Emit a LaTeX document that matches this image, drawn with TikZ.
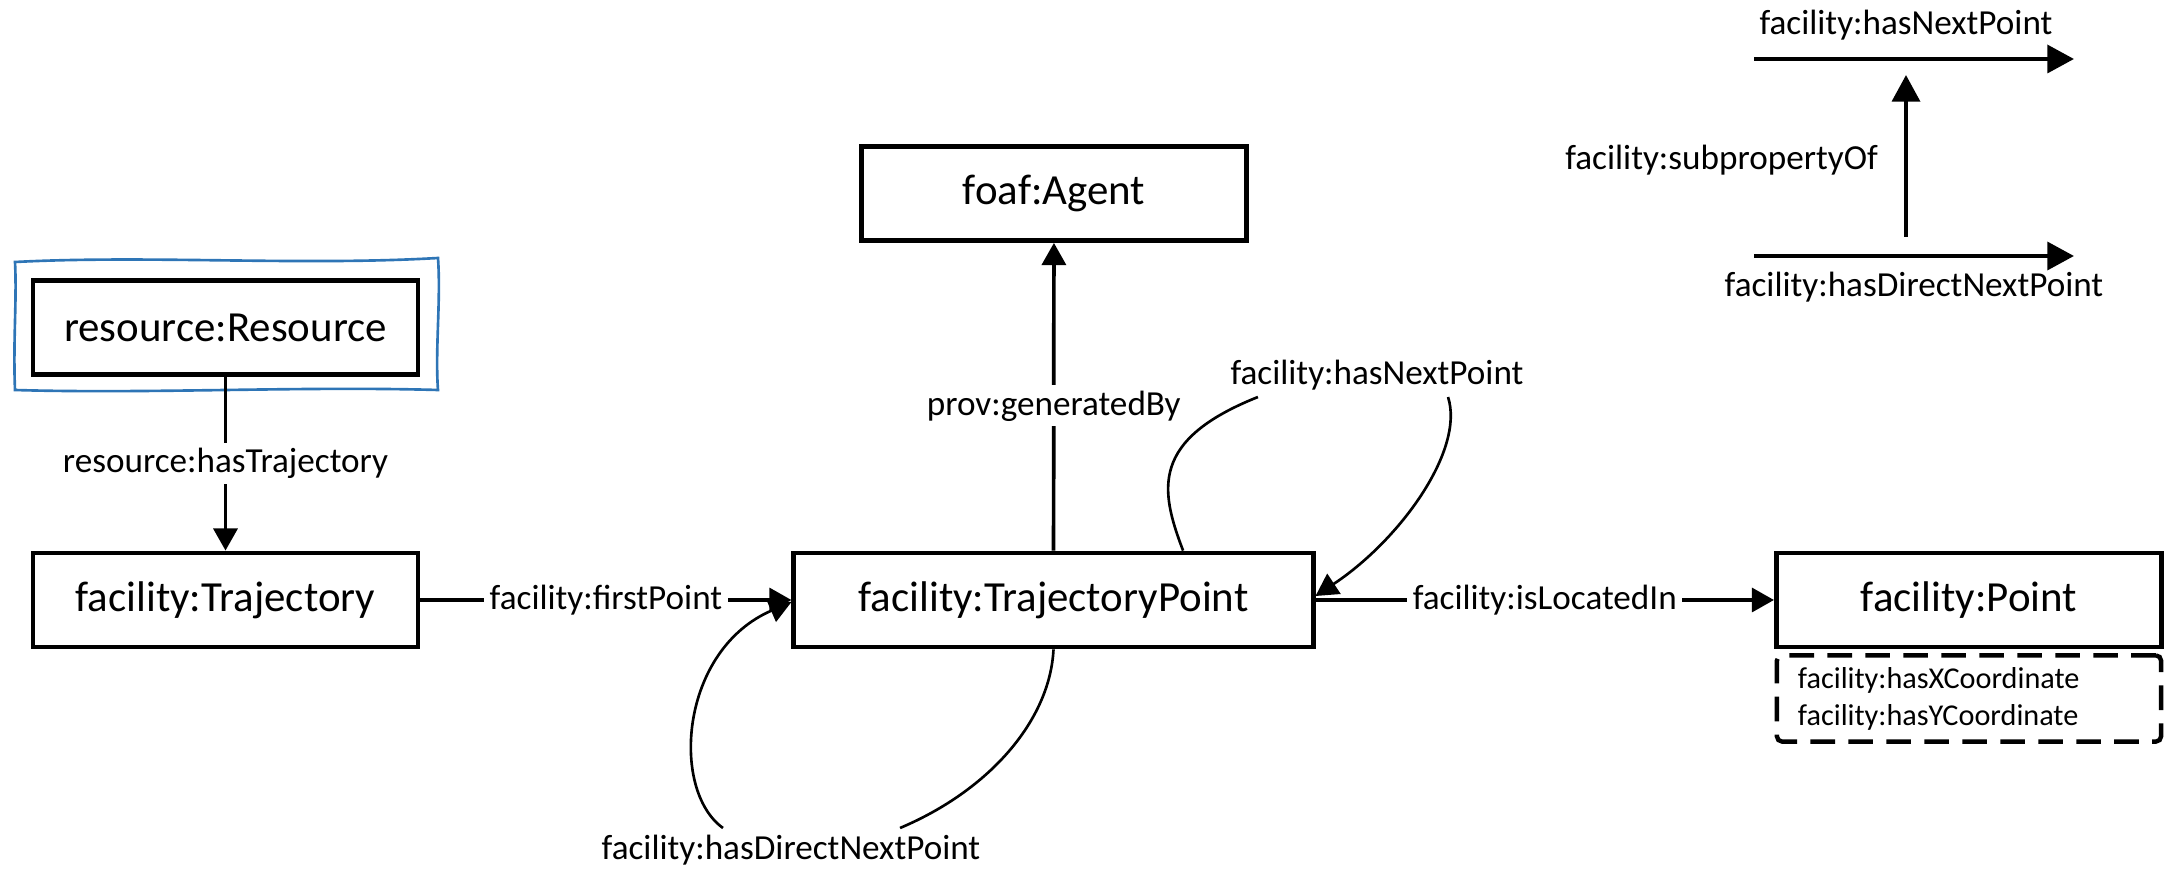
\documentclass[tikz,border=0pt]{standalone}
\usepackage{fontspec}
\setmainfont{Carlito}
\usetikzlibrary{arrows.meta}
\definecolor{frameblue}{RGB}{46,117,182}
\begin{document}
\begin{tikzpicture}[x=0.01cm,y=-0.01cm,
  cls/.style={draw, line width=1.35pt, minimum width=3.85cm, minimum height=0.94cm,
              inner sep=0pt, font=\fontsize{12.2}{14}\selectfont},
  lbl/.style={fill=white, inner sep=1.5pt, font=\fontsize{10}{12}\selectfont},
  plain/.style={inner sep=1pt, font=\fontsize{10}{12}\selectfont},
  conn/.style={line width=1.05pt, -{Triangle[length=6.3pt,width=6.8pt]}},
  loopc/.style={line width=0.75pt},
  looparrow/.style={line width=0.75pt, -{Triangle[length=6.3pt,width=6.8pt]}},
  legend/.style={line width=1.25pt, -{Triangle[length=7.6pt,width=7.9pt]}},
  attrbox/.style={draw, line width=1.25pt, dash pattern=on 7pt off 3.8pt,
                  rounded corners=1.5pt, text width=3.42cm, inner xsep=0.21cm,
                  minimum height=0.83cm, align=left,
                  font=\fontsize{8.6}{10.5}\selectfont},
]
\useasboundingbox (0,0) rectangle (2177,873);

% classes
\node[cls] (res)   at (225.5,327.5) {resource:Resource};
\node[cls] (traj)  at (225.5,600)   {facility:Trajectory};
\node[cls] (agent) at (1054,193.5)  {foaf:Agent};
\node[cls, minimum width=5.19cm] (tp) at (1053.5,600) {facility:TrajectoryPoint};
\node[cls] (pt)    at (1969,600)    {facility:Point};
\node[attrbox] (attr) at (1969,698.5) {facility:hasXCoordinate\\facility:hasYCoordinate};

% hand-drawn blue frame round the resource class
\draw[frameblue, line width=0.75pt]
  (15,262) .. controls (150,255) and (300,266) .. (438,258)
  .. controls (441,300) and (435,350) .. (438,390)
  .. controls (300,386) and (150,394) .. (15,390)
  .. controls (13,340) and (17,300) .. (15,262) -- cycle;

% straight properties
\draw[conn] (res) -- node[lbl] {resource:hasTrajectory} (traj);
\draw[conn] (traj) -- node[lbl] {facility:firstPoint} (tp);
\draw[conn] (tp) -- node[lbl, pos=0.47] {prov:generatedBy} (agent);
\draw[conn] (tp) -- node[lbl] {facility:isLocatedIn} (pt);

% self loop: hasNextPoint
\node[plain] (hnp) at (1377,375) {facility:hasNextPoint};
\draw[loopc] ([xshift=1.295cm]tp.north)
  .. controls (1160,490) and (1150,440) .. ([xshift=-1.19cm,yshift=-0.22cm]hnp.center);
\draw[looparrow] ([xshift=0.71cm,yshift=-0.22cm]hnp.center)
  .. controls (1465,450) and (1400,540) .. ([yshift=0.04cm]tp.east);

% self loop: hasDirectNextPoint
\node[plain] (hdnp) at (791,850) {facility:hasDirectNextPoint};
\draw[loopc] (tp.south)
  .. controls (1050,720) and (990,790) .. ([xshift=1.09cm,yshift=0.22cm]hdnp.center);
\draw[looparrow] ([xshift=-0.68cm,yshift=0.22cm]hdnp.center)
  .. controls (670,790) and (680,650) .. ([yshift=-0.02cm]tp.west);

% legend: sub-property relation
\coordinate (l1a) at (1754,59);
\coordinate (l1b) at (2074,59);
\coordinate (l2a) at (1754,256);
\coordinate (l2b) at (2074,256);
\coordinate (sa) at (1906,237);
\coordinate (sb) at (1906,75);
\draw[legend] (l1a) -- (l1b);
\draw[legend] (l2a) -- (l2b);
\draw[legend] (sa) -- (sb);
\node[plain] (lg1) at (1906,25) {facility:hasNextPoint};
\node[plain, anchor=east] (lg2) at (1882,160) {facility:subpropertyOf};
\node[plain] (lg3) at (1914,287) {facility:hasDirectNextPoint};
\end{tikzpicture}
\end{document}
